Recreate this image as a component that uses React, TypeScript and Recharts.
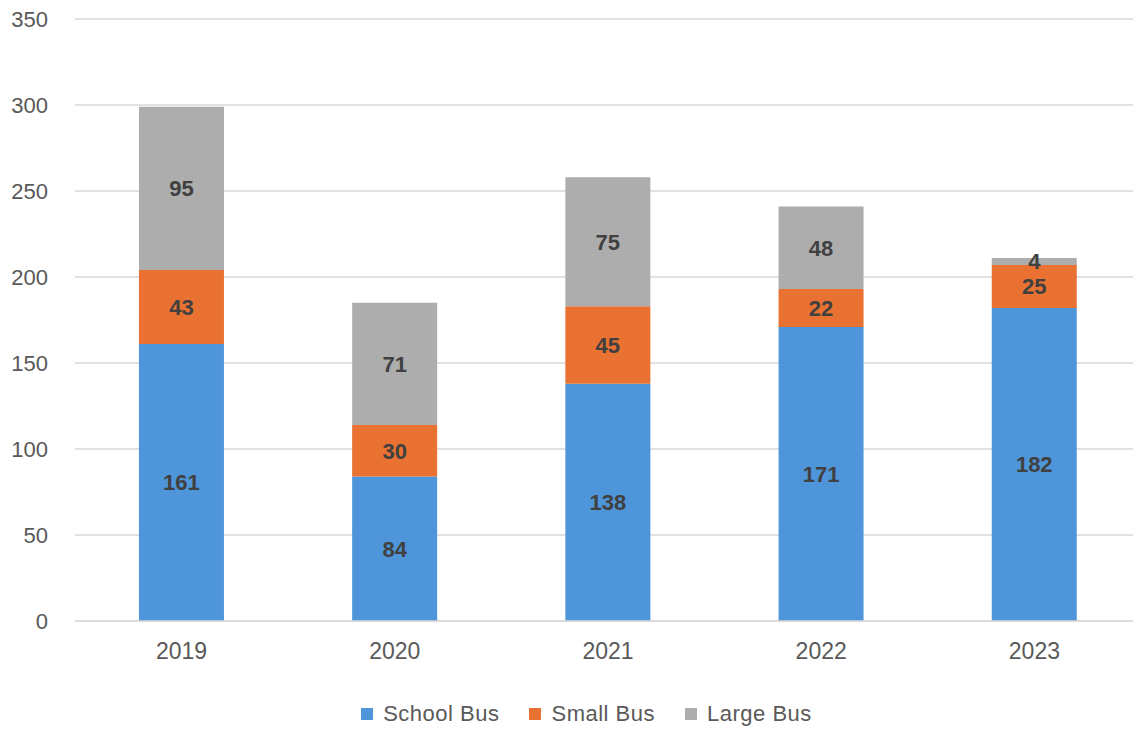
import { BarChart, Bar, XAxis, YAxis, CartesianGrid, Legend, LabelList } from 'recharts';

const years = ['2019', '2020', '2021', '2022', '2023'];
const schoolBus = [161, 84, 138, 171, 182];
const smallBus = [43, 30, 45, 22, 25];
const largeBus = [95, 71, 75, 48, 4];
const yTicks = [0, 50, 100, 150, 200, 250, 300, 350];

const series = [
  { key: 'school', name: 'School Bus', color: '#4E95D9' },
  { key: 'small', name: 'Small Bus', color: '#E97132' },
  { key: 'large', name: 'Large Bus', color: '#ADADAD' },
];

const rows = years.map((year, i) => ({
  year,
  school: schoolBus[i],
  small: smallBus[i],
  large: largeBus[i],
}));

const FONT = '"Liberation Sans", Arial, sans-serif';

function BusLegend() {
  return (
    <div style={{ height: 49, boxSizing: 'border-box', paddingTop: 17, paddingLeft: 32, display: 'flex', justifyContent: 'center', gap: 30, fontFamily: FONT, fontSize: 22, letterSpacing: 0.5, color: '#595959', lineHeight: '24px' }}>
      {series.map(s => (
        <div key={s.key} style={{ display: 'flex', alignItems: 'center', gap: 10 }}>
          <div style={{ width: 12, height: 12, background: s.color }} />
          <span>{s.name}</span>
        </div>
      ))}
    </div>
  );
}

export default function App() {
  return (
    <div style={{ position: 'absolute', left: 0, top: 0, width: 1133, height: 730, overflow: 'hidden', background: '#fff' }}>
      <BarChart
        width={1141}
        height={730}
        data={rows}
        margin={{ top: 19, right: 0, left: 0, bottom: 0 }}
        barCategoryGap="30%"
      >
        <CartesianGrid vertical={false} stroke="#D9D9D9" strokeWidth={1.5} />
        <XAxis
          dataKey="year"
          height={60}
          tickLine={false}
          tickSize={0}
          tickMargin={22}
          axisLine={{ stroke: '#D9D9D9', strokeWidth: 1.5 }}
          tick={{ fill: '#595959', fontSize: 23, fontFamily: FONT }}
        />
        <YAxis
          width={75}
          domain={[0, 350]}
          ticks={yTicks}
          axisLine={false}
          tickLine={false}
          tickSize={0}
          tickMargin={27}
          tick={{ fill: '#595959', fontSize: 22, fontFamily: FONT }}
        />
        <Legend verticalAlign="bottom" content={<BusLegend />} />
        {series.map(s => (
          <Bar key={s.key} dataKey={s.key} name={s.name} stackId="a" fill={s.color} isAnimationActive={false}>
            <LabelList dataKey={s.key} position="center" fill="#404040" fontSize={22} fontWeight="bold" fontFamily={FONT} />
          </Bar>
        ))}
      </BarChart>
    </div>
  );
}
